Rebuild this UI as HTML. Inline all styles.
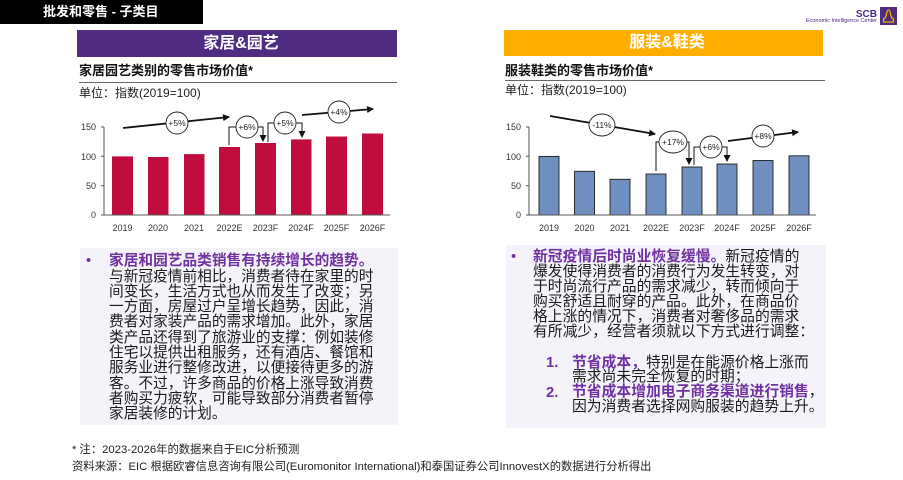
<!DOCTYPE html>
<html><head><meta charset="utf-8">
<style>
*{margin:0;padding:0;box-sizing:border-box}
html,body{width:903px;height:480px;background:#fff;overflow:hidden}
body{position:relative;font-family:"Liberation Sans","Noto Sans CJK SC",sans-serif;color:#1a1a1a}
.abs{position:absolute;white-space:nowrap}
.pb{color:#7030a0;font-weight:bold}
</style></head><body>

<div class="abs" style="left:0;top:0;width:203px;height:24px;background:#000"></div>
<div class="abs" style="left:43px;top:0;height:24px;line-height:24px;font-size:13px;font-weight:bold;color:#fff">批发和零售 - 子类目</div>

<div class="abs" style="left:77px;top:30px;width:320px;height:27px;background:#4f2b82;color:#fff;font-size:16px;font-weight:bold;line-height:27px;text-align:center;padding-left:8px">家居&amp;园艺</div>
<div class="abs" style="left:504px;top:30px;width:319px;height:26px;background:#ffae00;color:#fff;font-size:16px;font-weight:bold;line-height:26px;text-align:center;padding-left:7px">服装&amp;鞋类</div>

<div class="abs" style="left:79px;top:62px;line-height:18px;font-size:13px;font-weight:bold;color:#111">家居园艺类别的零售市场价值*</div>
<div class="abs" style="left:79px;top:82px;width:318px;height:1px;background:#666"></div>
<div class="abs" style="left:79px;top:85px;line-height:16px;font-size:12px;color:#222">单位：指数(2019=100)</div>

<div class="abs" style="left:505px;top:62px;line-height:18px;font-size:13px;font-weight:bold;color:#111">服装鞋类的零售市场价值*</div>
<div class="abs" style="left:505px;top:80px;width:320px;height:1px;background:#666"></div>
<div class="abs" style="left:505px;top:82px;line-height:16px;font-size:12px;color:#222">单位：指数(2019=100)</div>

<!-- text boxes -->
<div class="abs" style="left:80px;top:248px;width:318px;height:177px;background:#f5f3fa"></div>
<div class="abs" style="left:506px;top:245px;width:320px;height:183px;background:#f5f3fa"></div>

<div class="abs" style="left:86px;top:254px;font-size:14.7px;line-height:15.3px;color:#7030a0">•</div>
<div class="abs" style="left:109px;top:254.3px;font-size:14.7px;line-height:15.3px;color:#1a1a1a"><span class="pb">家居和园艺品类销售有持续增长的趋势。</span><br>与新冠疫情前相比，消费者待在家里的时<br>间变长，生活方式也从而发生了改变；另<br>一方面，房屋过户呈增长趋势，因此，消<br>费者对家装产品的需求增加。此外，家居<br>类产品还得到了旅游业的支撑：例如装修<br>住宅以提供出租服务，还有酒店、餐馆和<br>服务业进行整修改进，以便接待更多的游<br>客。不过，许多商品的价格上涨导致消费<br>者购买力疲软，可能导致部分消费者暂停<br>家居装修的计划。</div>

<div class="abs" style="left:511px;top:249.5px;font-size:14.8px;line-height:15px;color:#7030a0">•</div>
<div class="abs" style="left:533px;top:249.5px;font-size:14.8px;line-height:15px;color:#1a1a1a"><span class="pb">新冠疫情后时尚业恢复缓慢。</span>新冠疫情的<br>爆发使得消费者的消费行为发生转变，对<br>于时尚流行产品的需求减少，转而倾向于<br>购买舒适且耐穿的产品。此外，在商品价<br>格上涨的情况下，消费者对奢侈品的需求<br>有所减少，经营者须就以下方式进行调整：</div>

<div class="abs pb" style="left:546px;top:355.5px;font-size:14.8px;line-height:15px">1.<br><br>2.</div>
<div class="abs" style="left:572px;top:355.5px;font-size:14.8px;line-height:14.8px;color:#1a1a1a"><span class="pb">节省成本，</span>特别是在能源价格上涨而<br>需求尚未完全恢复的时期；<br><span class="pb">节省成本增加电子商务渠道进行销售</span>，<br>因为消费者选择网购服装的趋势上升。</div>

<!-- footnotes -->
<div class="abs" style="left:72px;top:443px;font-size:11.3px;line-height:14px;color:#222">* 注：2023-2026年的数据来自于EIC分析预测</div>
<div class="abs" style="left:72px;top:460px;font-size:11.3px;line-height:14px;color:#222">资料来源：EIC 根据欧睿信息咨询有限公司(Euromonitor International)和泰国证券公司InnovestX的数据进行分析得出</div>

<svg class="abs" style="left:0;top:0" width="903" height="480" viewBox="0 0 903 480" xmlns="http://www.w3.org/2000/svg">
<defs>
<marker id="ah" markerUnits="userSpaceOnUse" markerWidth="8" markerHeight="8" refX="6" refY="4" orient="auto">
<path d="M0,0.5 L7,4 L0,7.5 Z" fill="#111"/>
</marker>
</defs>

<!-- logo -->
<text x="877" y="17" text-anchor="end" font-family="Liberation Sans" font-weight="bold" font-size="10" fill="#4f2b82">SCB</text>
<text x="806" y="22" font-family="Liberation Sans" font-size="5" fill="#4f2b82" textLength="71" lengthAdjust="spacingAndGlyphs">Economic Intelligence Center</text>
<rect x="880" y="7" width="17" height="18" fill="#4f2b82"/>
<path d="M883.5,22 L883.5,19 Q886,18 886.5,14 Q887,10 888.5,10 Q890,10 890.5,14 Q891,18 893.5,19 L893.5,22 Z" fill="none" stroke="#f0b400" stroke-width="1.3"/>

<g font-family="Liberation Sans" font-size="9" fill="#333">
<!-- LEFT CHART -->
<g text-anchor="end">
<text x="96" y="130">150</text><text x="96" y="160">100</text><text x="96" y="189">50</text><text x="96" y="218">0</text>
</g>
<g fill="#c00d3e">
<rect x="112" y="156.4" width="21" height="58.6"/>
<rect x="148" y="157" width="20.5" height="58"/>
<rect x="184" y="154.1" width="20.5" height="60.9"/>
<rect x="219" y="147" width="21" height="68"/>
<rect x="255" y="143" width="21" height="72"/>
<rect x="291" y="139.4" width="20.5" height="75.6"/>
<rect x="326" y="136.5" width="21" height="78.5"/>
<rect x="362" y="133.5" width="21" height="81.5"/>
</g>
<path d="M104,127 V215 H390 M101,127 H104 M101,156.3 H104 M101,185.7 H104 M101,215 H104" stroke="#555" stroke-width="1" fill="none"/>
<g text-anchor="middle">
<text x="122.5" y="231">2019</text><text x="158" y="231">2020</text><text x="194" y="231">2021</text><text x="229.5" y="231">2022E</text>
<text x="265.5" y="231">2023F</text><text x="301" y="231">2024F</text><text x="336.5" y="231">2025F</text><text x="372.5" y="231">2026F</text>
</g>

<!-- RIGHT CHART -->
<g text-anchor="end">
<text x="521" y="130">150</text><text x="521" y="160">100</text><text x="521" y="189">50</text><text x="521" y="218">0</text>
</g>
<g fill="#6f8fc0" stroke="#1f1f1f" stroke-width="0.9">
<rect x="539" y="156.4" width="20" height="58.6"/>
<rect x="574.5" y="171.3" width="20" height="43.7"/>
<rect x="610" y="179.3" width="20" height="35.7"/>
<rect x="646" y="174" width="20" height="41"/>
<rect x="682" y="167" width="20" height="48"/>
<rect x="717" y="164" width="20" height="51"/>
<rect x="753" y="160.5" width="20" height="54.5"/>
<rect x="789" y="155.8" width="20" height="59.2"/>
</g>
<path d="M529,127 V215 H816 M526,127 H529 M526,156.3 H529 M526,185.7 H529 M526,215 H529" stroke="#555" stroke-width="1" fill="none"/>
<g text-anchor="middle">
<text x="549" y="231">2019</text><text x="584.5" y="231">2020</text><text x="620" y="231">2021</text><text x="656" y="231">2022E</text>
<text x="692" y="231">2023F</text><text x="727" y="231">2024F</text><text x="763" y="231">2025F</text><text x="799" y="231">2026F</text>
</g>
</g>

<!-- annotations -->
<g stroke="#111" fill="none">
<line x1="123" y1="128" x2="229" y2="117" stroke-width="1.8" marker-end="url(#ah)"/>
<path d="M229,145 V127 H236" stroke-width="1"/>
<path d="M258,127 H263 V141" stroke-width="1" marker-end="url(#ah)"/>
<path d="M268,142 V123 H274" stroke-width="1"/>
<path d="M296,123 H302 V137" stroke-width="1" marker-end="url(#ah)"/>
<line x1="302" y1="115" x2="373" y2="109" stroke-width="1.8" marker-end="url(#ah)"/>

<line x1="550" y1="116" x2="655" y2="134" stroke-width="1.8" marker-end="url(#ah)"/>
<path d="M656,171 V142 H659" stroke-width="1"/>
<path d="M687,142 H689 V164" stroke-width="1" marker-end="url(#ah)"/>
<path d="M694,165 V147 H700" stroke-width="1"/>
<path d="M722,147 H727 V161" stroke-width="1" marker-end="url(#ah)"/>
<line x1="728" y1="141" x2="798" y2="132" stroke-width="1.8" marker-end="url(#ah)"/>
</g>
<g fill="#fff" stroke="#222" stroke-width="0.9">
<ellipse cx="177" cy="123" rx="11" ry="11"/>
<ellipse cx="247" cy="127" rx="11" ry="11"/>
<ellipse cx="285" cy="123" rx="11" ry="11"/>
<ellipse cx="339" cy="112" rx="11" ry="11"/>
<ellipse cx="602" cy="125" rx="13" ry="11"/>
<ellipse cx="673" cy="142" rx="14" ry="11"/>
<ellipse cx="711" cy="147" rx="11" ry="11"/>
<ellipse cx="763" cy="136" rx="11" ry="11"/>
</g>
<g font-family="Liberation Sans" font-size="8.5" fill="#222" text-anchor="middle">
<text x="177" y="126">+5%</text>
<text x="247" y="130">+6%</text>
<text x="285" y="126">+5%</text>
<text x="339" y="115">+4%</text>
<text x="602" y="128">-11%</text>
<text x="673" y="145">+17%</text>
<text x="711" y="150">+6%</text>
<text x="763" y="139">+8%</text>
</g>
</svg>
</body></html>
